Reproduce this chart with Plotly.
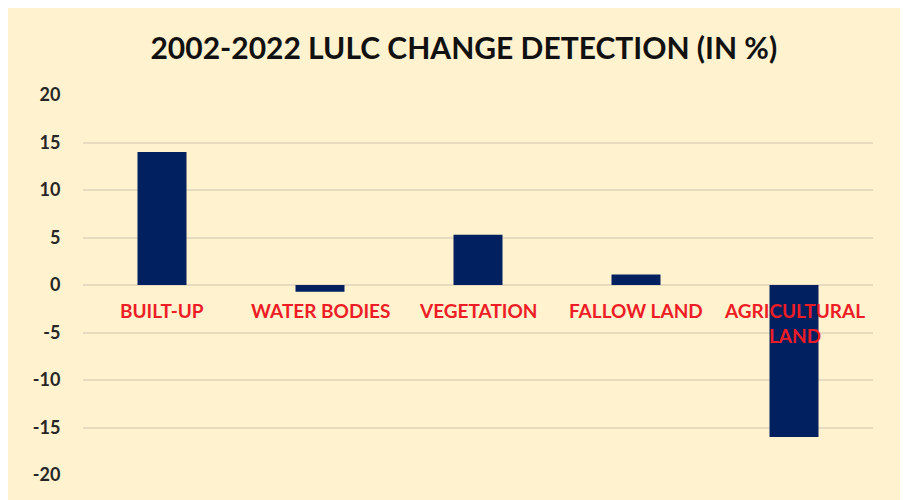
import plotly.graph_objects as go

categories = ["BUILT-UP", "WATER BODIES", "VEGETATION", "FALLOW LAND", "AGRICULTURAL LAND"]
category_labels = ["BUILT-UP", "WATER BODIES", "VEGETATION", "FALLOW LAND", "AGRICULTURAL<br>LAND"]
change_pct = [14.0, -0.7, 5.3, 1.1, -16.0]
y_ticks = [20, 15, 10, 5, 0, -5, -10, -15, -20]

# page body has an 8px margin, so figure coordinates = screen - 8
W, H = 908, 500
ml, mr, mt, mb = 75, 43, 87, 33

fig = go.Figure()
fig.add_trace(go.Bar(
    x=categories, y=change_pct,
    marker=dict(color="#002060", line=dict(width=0)),
    width=0.31,
    hoverinfo="x+y",
))

for cat, lab in zip(categories, category_labels):
    fig.add_annotation(
        x=cat, y=0, xref="x", yref="y",
        text=lab, showarrow=False,
        yanchor="top", yshift=-12,
        font=dict(family="Lato, Open Sans, sans-serif", size=19, color="#EE1C25", weight="bold"),
        align="center",
    )

fig.update_layout(
    width=W, height=H,
    margin=dict(l=ml, r=mr, t=mt, b=mb),
    paper_bgcolor="#FFF2CF",
    plot_bgcolor="rgba(0,0,0,0)",
    showlegend=False,
    bargap=0.69,
    title=dict(
        text="2002-2022 LULC CHANGE DETECTION (IN %)",
        x=0.502, xanchor="center", y=1 - 40 / H, yanchor="middle",
        font=dict(family="Lato, Open Sans, sans-serif", size=30, color="#111111", weight="bold"),
    ),
    xaxis=dict(
        showticklabels=False, showgrid=False, zeroline=False, showline=False,
        ticks="",
    ),
    yaxis=dict(
        range=[-20, 20], tickvals=y_ticks, ticktext=[str(v) for v in y_ticks],
        showgrid=True, gridcolor="#E6DAC0", gridwidth=2,
        zeroline=True, zerolinecolor="#E6DAC0", zerolinewidth=2,
        showline=False, ticks="outside", ticklen=18, tickcolor="rgba(0,0,0,0)",
        tickfont=dict(family="Lato, Open Sans, sans-serif", size=18, color="#262626", weight="bold"),
    ),
)

fig.write_html("out.html")
